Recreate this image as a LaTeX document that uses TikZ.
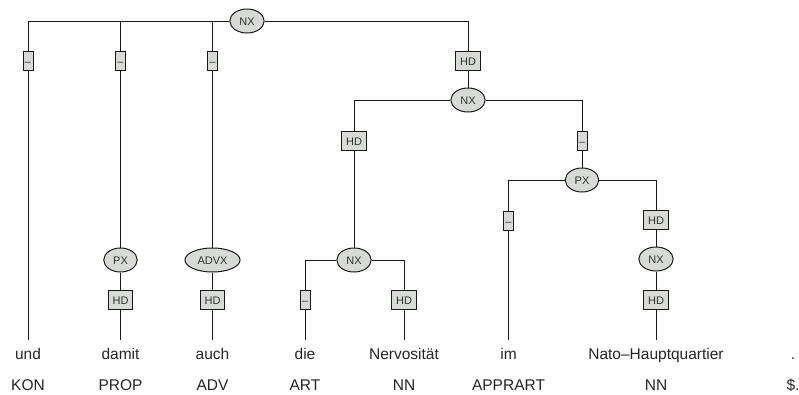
\documentclass[tikz,border=0pt]{standalone}
\usepackage{fontspec}
\setmainfont{Liberation Sans}
\usepackage{tikz}
\usetikzlibrary{positioning,shapes.geometric,backgrounds}
\definecolor{nodegray}{HTML}{D8DAD8}
\definecolor{labtext}{HTML}{333333}
\tikzset{
  cat/.style={ellipse, draw=black!90, fill=nodegray, line width=1pt, text=labtext,
              font=\fontsize{11}{12}\selectfont, inner xsep=4.5pt, inner ysep=0pt,
              minimum width=33pt, minimum height=24pt, text height=8pt, text depth=0pt},
  edgelab/.style={rectangle, draw=black!90, fill=nodegray, line width=1pt, text=labtext,
                  font=\fontsize{11}{12}\selectfont, inner xsep=4.5pt, inner ysep=0pt,
                  minimum height=19pt, text height=8pt, text depth=0pt},
  dashlab/.style={edgelab, inner xsep=1.5pt, minimum width=10pt},
  word/.style={anchor=base, font=\fontsize{15.5}{18}\selectfont, text=black!85,
               inner xsep=0pt, inner ysep=6pt, text height=13pt, text depth=0pt},
  postag/.style={anchor=base, font=\fontsize{15.5}{18}\selectfont, text=black!85, inner sep=0pt},
  branch/.style={line width=1pt, draw=black!90},
}
\begin{document}
\begin{tikzpicture}[x=1pt,y=-1pt]
  \useasboundingbox (0,0) rectangle (799,394);
  % phrase nodes
  \node[cat] (nxtop)   at (247,21)    {NX};
  \node[cat] (nxhd)    at (468,100)   {NX};
  \node[cat] (nxdet)   at (354,260)   {NX};
  \node[cat] (pxim)    at (582,180)   {PX};
  \node[cat] (nxnato)  at (656,259)   {NX};
  \node[cat] (pxdamit) at (120.5,260) {PX};
  \node[cat] (advx)    at (212.5,260) {ADVX};
  % words and tags
  \foreach \x/\w/\t [count=\i] in {28/und/KON, 120.5/damit/PROP, 212.5/auch/ADV,
      305/die/ART, 404/Nervosität/NN, 508.5/im/APPRART, 656/Nato--Hauptquartier/NN, 793/./\$.}{
    \node[word] (w\i) at (\x,359) {\w};
    \node[postag] (t\i) at (\x,390) {\t};
  }
  % edge labels
  \node[dashlab] (e1) at (28,61)     {--};
  \node[dashlab] (e2) at (120.5,61)  {--};
  \node[dashlab] (e3) at (212.5,61)  {--};
  \node[edgelab] (e4) at (468,61)    {HD};
  \node[edgelab] (e5) at (354,141)   {HD};
  \node[dashlab] (e6) at (582,141)   {--};
  \node[dashlab] (e7) at (508.5,221) {--};
  \node[edgelab] (e8) at (656,220)   {HD};
  \node[edgelab] (e9) at (120.5,300) {HD};
  \node[edgelab] (e10) at (212.5,300) {HD};
  \node[dashlab] (e11) at (305,300)  {--};
  \node[edgelab] (e12) at (404,300)  {HD};
  \node[edgelab] (e13) at (656,300)  {HD};
  % branches
  \begin{scope}[on background layer]
    \draw[branch] (nxtop.west) -| (w1.north);
    \draw[branch] (nxtop.west) -| (pxdamit.north);
    \draw[branch] (nxtop.west) -| (advx.north);
    \draw[branch] (nxtop.east) -| (nxhd.north);
    \draw[branch] (pxdamit) -- (w2.north);
    \draw[branch] (advx) -- (w3.north);
    \draw[branch] (nxhd.west) -| (nxdet.north);
    \draw[branch] (nxhd.east) -| (pxim.north);
    \draw[branch] (nxdet.west) -| (w4.north);
    \draw[branch] (nxdet.east) -| (w5.north);
    \draw[branch] (pxim.west) -| (w6.north);
    \draw[branch] (pxim.east) -| (nxnato.north);
    \draw[branch] (nxnato) -- (w7.north);
  \end{scope}
\end{tikzpicture}
\end{document}
